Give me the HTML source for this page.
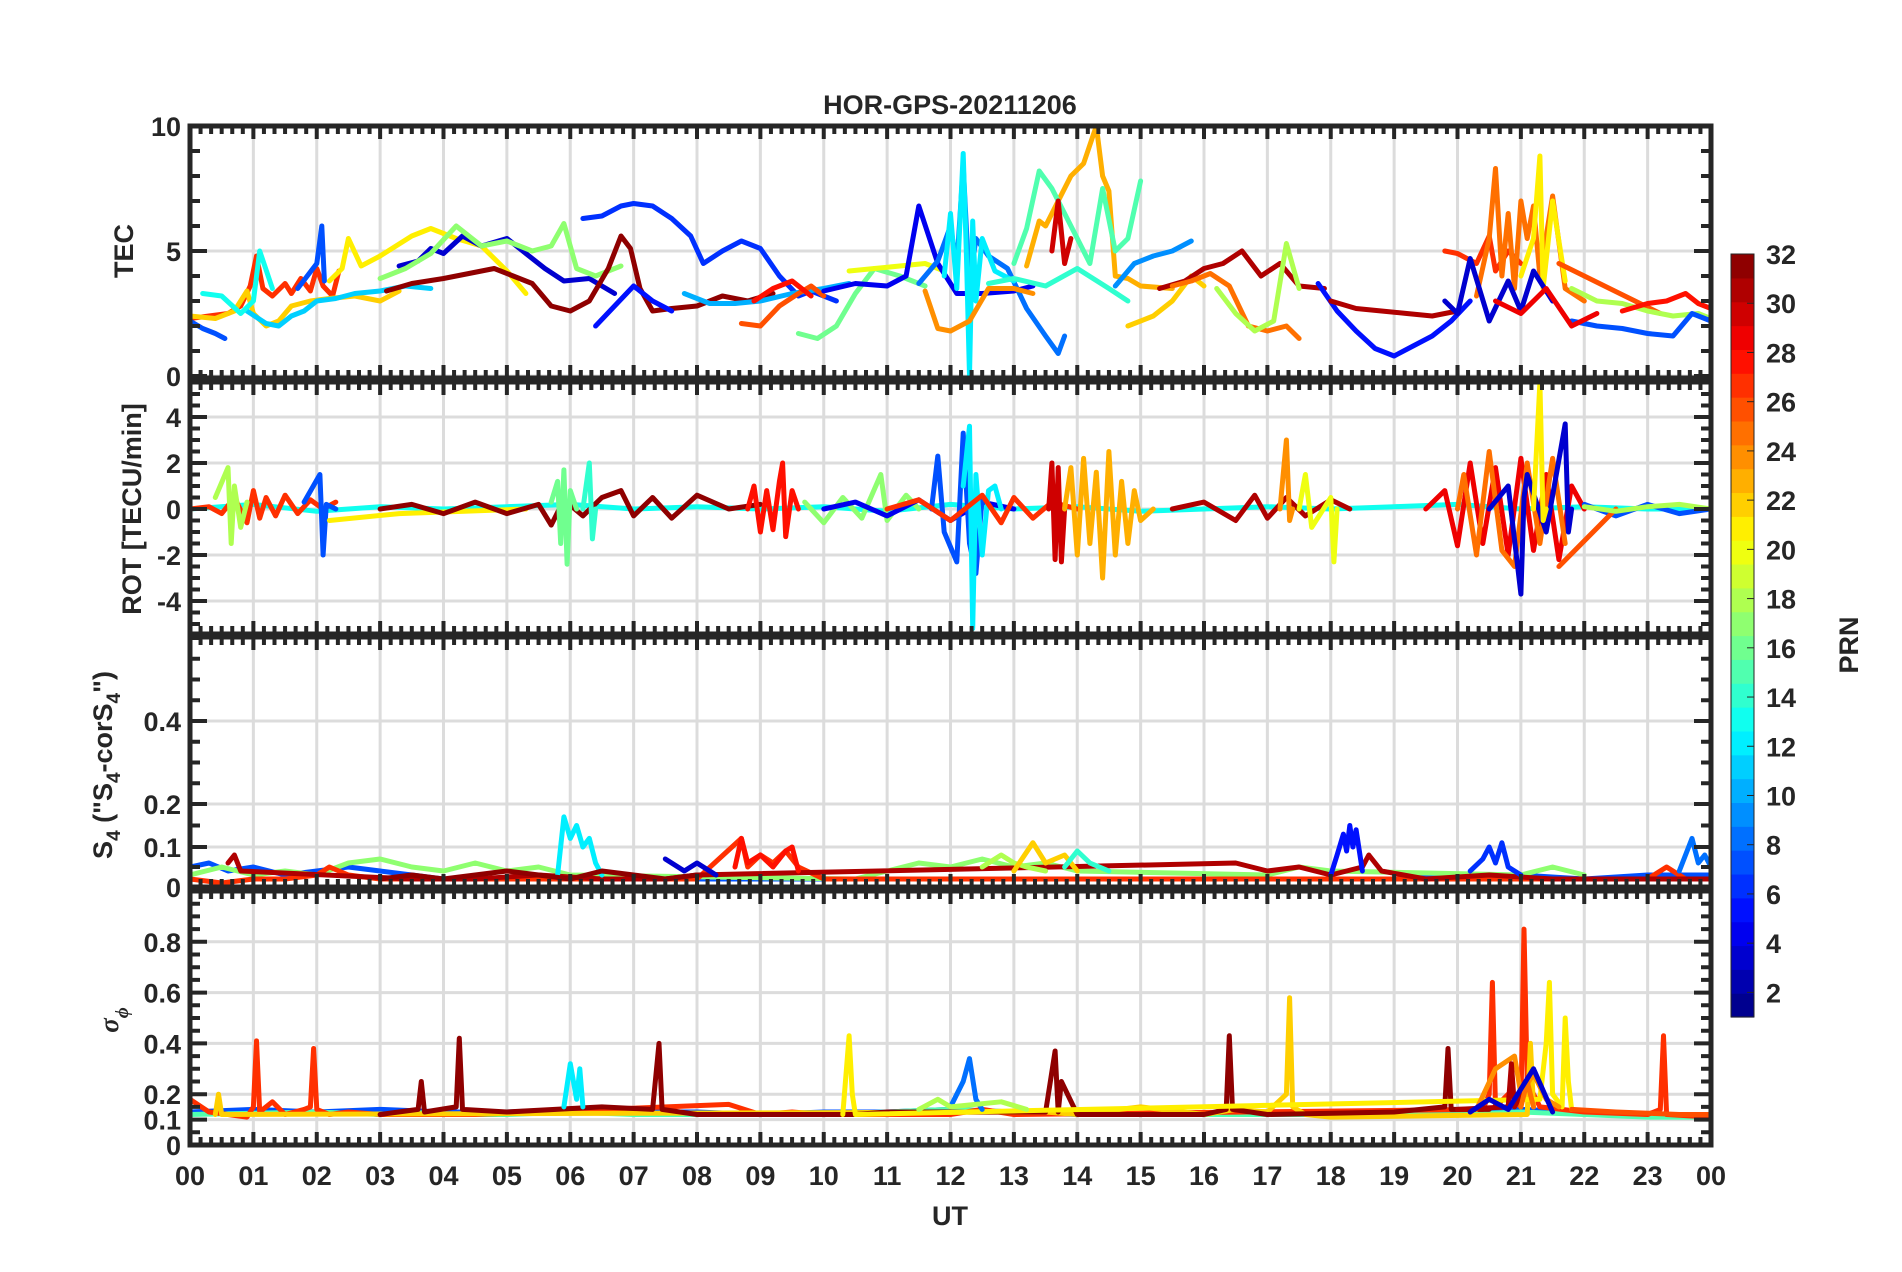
<!DOCTYPE html>
<html><head><meta charset="utf-8"><style>
html,body{margin:0;padding:0;background:#fff;}
svg{display:block;font-family:"Liberation Sans",Arial,sans-serif;}
text{fill:#262626;font-weight:bold;}
</style></head><body>
<svg id="fig" width="1902" height="1272" viewBox="0 0 1902 1272" xmlns="http://www.w3.org/2000/svg">
<text x="950" y="114" font-size="27" text-anchor="middle">HOR-GPS-20211206</text>
<g id="grids"></g>
<g id="data"></g>
<g id="frames"></g>
<g id="labels"></g>
<text transform="translate(133,251) rotate(-90)" font-size="27" text-anchor="middle">TEC</text>
<text transform="translate(141,509) rotate(-90)" font-size="27" text-anchor="middle">ROT [TECU/min]</text>
<text transform="translate(112,765) rotate(-90)" font-size="27" text-anchor="middle">S<tspan font-size="19" dy="8">4</tspan><tspan dy="-8"> ("S</tspan><tspan font-size="19" dy="8">4</tspan><tspan dy="-8">-corS</tspan><tspan font-size="19" dy="8">4</tspan><tspan dy="-8">")</tspan></text>
<text transform="translate(118,1020) rotate(-90)" font-size="27" font-style="italic" font-weight="normal" font-family="Liberation Serif,serif" text-anchor="middle">σ<tspan font-size="19" dy="10">ϕ</tspan></text>
<text x="950" y="1225" font-size="27" text-anchor="middle">UT</text>
<g id="cbar"></g>
<text transform="translate(1858,645) rotate(-90)" font-size="27" text-anchor="middle">PRN</text>
</svg>
<script>
// ---------- DATA ----------
const hourTicks=["00","01","02","03","04","05","06","07","08","09","10","11","12","13","14","15","16","17","18","19","20","21","22","23","00"];
const tecTicks=[0,5,10];
const rotTicks=[-4,-2,0,2,4];
const s4Ticks=[0,0.1,0.2,0.4];
const sigTicks=[0,0.1,0.2,0.4,0.6,0.8];
const prnTicks=[2,4,6,8,10,12,14,16,18,20,22,24,26,28,30,32];

const tecPrn=[27,22,11,7,7,13,21,3,17,32,6,5,10,26,28,16,20,4,8,12,24,23,15,14,30,9,22,31,25,18,5,31,27,25,21,26,3,18,7,28,29];
const tecT=[
[0,0.3,0.6,0.8,0.95,1.05,1.15,1.3,1.5,1.6,1.75,1.9,2.0,2.1,2.25,2.35],
[0,0.4,0.7,0.9,1.0,1.2,1.4,1.6,1.9,2.2,2.6,3.0,3.3],
[0.9,1.2,1.4,1.6,1.8,2.0,2.3,2.6,3.0,3.4,3.8],
[0,0.2,0.4,0.55],
[1.7,2.0,2.08,2.12],
[0.2,0.5,0.8,1.0,1.1,1.3],
[2.2,2.4,2.5,2.7,3.0,3.5,3.8,4.2,4.6,5.0,5.3],
[3.3,3.6,3.8,4.0,4.3,4.6,5.0,5.3,5.6,5.9,6.3,6.7],
[3.0,3.4,3.8,4.2,4.6,5.0,5.4,5.7,5.9,6.1,6.4,6.8],
[3.1,3.5,4.0,4.4,4.8,5.1,5.4,5.7,6.0,6.3,6.6,6.8,6.95,7.1,7.3,7.6,8.0,8.4,8.8,9.2],
[6.2,6.5,6.8,7.0,7.3,7.6,7.9,8.1,8.4,8.7,9.0,9.3,9.6,9.8,10.2],
[6.4,6.7,7.0,7.3,7.6],
[7.8,8.2,8.6,9.0,9.5,10.0,10.4],
[8.7,9.0,9.3,9.6,9.8,10.0],
[8.9,9.2,9.5,9.8],
[9.6,9.9,10.2,10.5,10.8,11.2,11.6],
[10.4,10.8,11.2,11.6,11.9],
[10.0,10.5,11.0,11.3,11.5,11.8,12.1,12.5,13.0,13.3],
[11.5,11.8,12.0,12.1,12.2,12.3,12.4,12.6,12.9,13.2,13.5,13.7,13.8],
[11.9,12.0,12.1,12.2,12.25,12.3,12.35,12.4,12.5,12.7,13.0],
[11.6,11.8,12.0,12.3,12.6,13.0,13.3],
[13.2,13.4,13.5,13.7,13.9,14.1,14.3,14.4,14.5,14.6,14.8,15.0,15.5],
[13.0,13.2,13.4,13.6,13.8,14.0,14.2,14.4,14.6,14.8,15.0],
[12.6,13.0,13.5,14.0,14.5,14.8],
[13.6,13.7,13.8,13.9],
[14.6,14.9,15.2,15.5,15.8],
[14.8,15.2,15.5,15.8,16.0],
[15.3,15.7,16.0,16.3,16.6,16.9,17.2,17.5,17.9],
[15.5,15.8,16.1,16.4,16.7,17.0,17.3,17.5],
[16.2,16.5,16.8,17.1,17.3,17.5],
[17.8,18.1,18.4,18.7,19.0,19.3,19.6,19.9,20.2],
[18.0,18.4,18.8,19.2,19.6,20.0],
[19.8,20.0,20.3,20.5,20.6,20.8,21.0],
[20.3,20.5,20.6,20.7,20.8,20.9,21.0,21.1,21.2,21.3,21.5,21.7,22.0],
[21.0,21.2,21.3,21.35,21.5,21.7],
[21.6,22.0,22.4,22.8,23.2],
[19.8,20.0,20.2,20.5,20.8,21.0,21.2,21.5],
[21.8,22.2,22.6,23.0,23.4,23.8,24.0],
[21.8,22.2,22.6,23.0,23.4,23.7,24.0],
[22.6,23.0,23.3,23.6,23.8,24.0],
[20.6,21.0,21.4,21.8,22.2]];
const tecV=[
[2.3,2.4,2.5,2.8,3.6,4.8,3.5,3.2,3.7,3.3,3.9,3.4,4.3,3.6,3.2,4.2],
[2.4,2.3,2.6,3.4,2.5,2.0,2.2,2.8,3.0,3.1,3.2,3.0,3.4],
[2.6,2.1,2.0,2.4,2.6,3.0,3.1,3.3,3.4,3.6,3.5],
[2.2,1.9,1.7,1.5],
[3.5,4.5,6.0,3.8],
[3.3,3.2,2.5,3.0,5.0,3.5],
[3.8,4.3,5.5,4.4,4.8,5.6,5.9,5.5,5.2,4.2,3.3],
[4.4,4.6,5.1,4.9,5.6,5.2,5.5,4.9,4.3,3.8,3.9,3.3],
[3.9,4.3,4.9,6.0,5.2,5.4,5.0,5.2,6.1,4.3,4.0,4.4],
[3.4,3.7,3.9,4.1,4.3,4.0,3.7,2.8,2.6,3.0,4.3,5.6,5.1,3.5,2.6,2.7,2.8,3.2,3.0,3.3],
[6.3,6.4,6.8,6.9,6.8,6.3,5.6,4.5,5.0,5.4,5.1,4.0,3.2,3.4,3.0],
[2.0,2.8,3.6,3.0,2.6],
[3.3,2.9,2.9,3.0,3.3,3.5,3.7],
[2.1,2.0,2.8,3.3,3.6,3.2],
[3.0,3.5,3.8,3.2],
[1.7,1.5,2.0,3.3,4.3,4.0,3.6],
[4.2,4.3,4.4,4.5,4.2],
[3.4,3.7,3.6,4.0,6.8,4.5,3.3,3.3,3.4,3.6],
[3.7,4.6,6.0,4.4,8.4,3.5,5.5,4.8,4.3,2.7,1.6,0.9,1.6],
[4.0,6.5,3.5,8.9,5.0,0.0,6.2,3.0,5.5,4.2,3.8],
[3.4,1.9,1.8,2.2,3.5,3.5,3.3],
[4.4,6.2,6.0,7.0,8.0,8.5,10.0,8.0,7.4,4.0,3.9,3.6,3.5],
[4.5,5.9,8.2,7.5,6.5,5.5,4.5,7.5,5.0,5.5,7.8],
[3.7,3.9,3.6,4.3,3.5,3.0],
[5.0,7.0,4.5,5.5],
[3.6,4.5,4.8,5.0,5.4],
[2.0,2.4,3.0,4.0,3.6],
[3.5,3.8,4.3,4.5,5.0,4.0,4.5,3.6,3.5],
[3.6,3.8,4.1,3.6,2.0,1.8,2.0,1.5],
[3.5,2.5,1.8,2.2,5.3,3.5],
[3.7,2.6,1.8,1.1,0.8,1.2,1.6,2.2,3.0],
[3.0,2.7,2.6,2.5,2.4,2.6],
[5.0,4.9,4.5,5.6,4.2,5.0,4.5],
[3.2,5.5,8.3,4.0,6.5,3.5,7.0,5.5,6.8,4.0,7.2,3.5,3.0],
[4.0,5.5,8.8,3.5,7.0,3.8],
[4.5,4.0,3.5,3.0,2.5],
[3.0,2.5,4.7,2.2,3.8,2.6,4.2,3.0],
[3.5,3.0,2.9,2.6,2.4,2.5,2.3],
[2.2,2.0,1.9,1.7,1.6,2.5,2.2],
[2.6,2.9,3.0,3.3,2.9,2.7],
[3.0,2.5,3.5,2.0,2.5]];

const rotPrn=[13,27,18,7,21,32,16,14,28,17,4,7,12,27,30,23,31,24,20,29,25,3,21,7,26,18];
const rotT=[
[0,1,2,3,4,5,6,7,8,9,10,11,12,13,14,15,16,17,18,19,20,21,22,23,24],
[0,0.3,0.5,0.7,0.9,1.0,1.1,1.2,1.35,1.5,1.7,1.9,2.1,2.3],
[0.4,0.6,0.65,0.7,0.8,0.9],
[1.8,2.05,2.1,2.15,2.3],
[2.2,3.3,5.3],
[3.0,3.5,4.0,4.5,5.0,5.5,5.7,5.9,6.2,6.5,6.8,7.0,7.3,7.6,8.0,8.5,9.0],
[5.7,5.8,5.85,5.9,5.95,6.0,6.1],
[6.2,6.3,6.35,6.4],
[8.8,8.9,9.0,9.1,9.2,9.3,9.35,9.4,9.5,9.6],
[9.7,10.0,10.3,10.6,10.9,11.0,11.3,11.5],
[10.0,10.5,11.0,11.5,12.0,12.5,13.0],
[11.7,11.8,11.9,12.1,12.2,12.3,12.4,12.5],
[12.2,12.3,12.35,12.4,12.5,12.6,12.7,12.8],
[11.0,11.5,12.0,12.5,12.8,13.0,13.3,13.6,14.0],
[13.55,13.6,13.65,13.7,13.75,13.8],
[13.8,13.9,14.0,14.1,14.2,14.3,14.4,14.5,14.6,14.7,14.8,14.9,15.0,15.2],
[15.5,16.0,16.5,16.8,17.0,17.3,17.6,18.0,18.3],
[17.2,17.3,17.35,17.4],
[17.5,17.6,17.7,18.0,18.05,18.1],
[19.5,19.8,20.0,20.2,20.4,20.6,20.8,21.0,21.2,21.4,21.6,21.8,22.0],
[20.0,20.1,20.3,20.5,20.7,20.9,21.1,21.3,21.5,21.7],
[20.5,20.8,21.0,21.05,21.1,21.4,21.7,21.75,21.8],
[21.2,21.3,21.35,21.4],
[22.0,22.5,23.0,23.5,24.0],
[21.6,22.5],
[22.0,22.5,23.0,23.5,24.0]];
const rotV=[
[0,0.2,-0.1,0.1,0,0.1,0.2,0,0.1,0,0.1,-0.1,0.2,0,0.1,-0.1,0,0.1,0,0.1,0.2,0,0.1,0,0],
[0,0.1,-0.2,0.5,-0.6,0.8,-0.4,0.5,-0.3,0.6,-0.2,0.4,0,0.3],
[0.5,1.8,-1.5,1.0,-0.8,0.3],
[0.3,1.5,-2.0,0.2,0],
[-0.5,-0.2,0],
[0,0.2,-0.2,0.3,-0.2,0.2,-0.7,0.4,-0.3,0.5,0.8,-0.3,0.5,-0.4,0.6,0,0.2],
[0.3,1.2,-1.5,1.7,-2.4,0.8,0],
[0,2.0,-1.3,0],
[0,1.0,-1.0,0.8,-0.9,1.2,2.0,-1.2,0.8,0],
[0.3,-0.6,0.5,-0.4,1.5,-0.5,0.6,0],
[0,0.3,-0.3,0.4,-0.5,0.3,0],
[0,2.3,-1.0,-2.3,3.3,-1.5,-2.8,0.5],
[1.0,3.6,-5.2,1.5,-2.0,0.8,1.0,0],
[0,0.4,-0.5,0.6,-0.6,0.5,-0.4,0.3,0],
[0,2.0,-2.2,1.8,-2.3,0],
[0,1.8,-2.0,2.2,-1.5,1.6,-3.0,2.5,-2.0,1.2,-1.5,0.8,-0.5,0],
[0,0.3,-0.5,0.6,-0.4,0.5,-0.3,0.4,0],
[0,3.0,-0.5,0],
[0,1.5,-0.8,0.5,-2.3,0],
[0,0.8,-1.6,2.0,-1.5,1.8,-2.0,2.2,-1.8,1.5,-2.2,1.0,0],
[0,1.5,-2.0,2.5,-1.8,-2.5,2.0,-1.5,2.2,-1.5],
[0,1.0,-3.7,0.5,1.5,-1.0,3.7,-1.0,0],
[0,5.5,-0.5,0],
[0.2,-0.3,0.2,-0.2,0],
[-2.5,0],
[0.1,-0.1,0.1,0.2,0]];

const s4Prn=[7,17,27,31,12,3,28,18,22,14,5,6,8,32];
const s4T=[
[0,0.3,0.6,1.0,1.5,2.0,2.5,3.0,3.5,4.0,5.0,6.0,7.0,8.0,9.0,10.0,11.0,12.0,13.0,14.0,15.0,16.0,17.0,18.0,19.0,20.0,21.0,22.0,23.0,24.0],
[0,0.5,1.0,1.5,2.0,2.5,3.0,3.5,4.0,4.5,5.0,5.5,6.0,10.5,11.0,11.5,12.0,12.5,13.0,13.5,14.0,17.0,17.5,18.0,21.0,21.5,22.0],
[0,0.5,1.0,1.5,2.0,2.2,2.5,3.0,3.5,4.0,5.0,6.0,7.0,8.0,8.7,8.8,9.0,9.2,9.4,9.6,10.0,11.0,12.0,13.0,14.0,15.0,16.0,17.0,18.0,19.0,20.0,21.0,22.0,23.0,23.3,23.6,24.0],
[0.6,0.7,0.8,3.5,4.5,5.5,6.5,7.5,8.0,16.5,17.0,17.5,18.0,18.5,18.6,18.8,19.5,20.5,21.5,22.5,23.5,24.0],
[5.8,5.9,6.0,6.1,6.2,6.3,6.4,6.5],
[7.5,7.8,8.0,8.3],
[8.6,8.7,8.8,9.0,9.2,9.4,9.5,9.6],
[12.5,12.8,13.0,13.2,13.5],
[13.0,13.3,13.5,13.8,14.0],
[13.8,14.0,14.2,14.5],
[18.0,18.1,18.2,18.25,18.3,18.35,18.4,18.5],
[20.2,20.4,20.5,20.6,20.7,20.8,21.0],
[23.5,23.7,23.8,23.9,24.0],
[3.0,3.5,4.0,4.5,5.0,5.5,6.0,6.5,7.0,7.5,8.0]];
const s4V=[
[0.05,0.06,0.04,0.05,0.03,0.04,0.05,0.04,0.03,0.02,0.02,0.02,0.02,0.02,0.02,0.02,0.02,0.02,0.02,0.02,0.02,0.02,0.02,0.02,0.02,0.03,0.03,0.02,0.03,0.03],
[0.03,0.05,0.03,0.04,0.03,0.06,0.07,0.05,0.04,0.06,0.04,0.05,0.03,0.02,0.04,0.06,0.05,0.07,0.05,0.06,0.04,0.03,0.05,0.04,0.03,0.05,0.03],
[0.02,0.01,0.02,0.02,0.03,0.05,0.03,0.02,0.02,0.02,0.02,0.02,0.02,0.02,0.12,0.05,0.08,0.06,0.09,0.05,0.02,0.02,0.02,0.02,0.02,0.02,0.02,0.02,0.02,0.02,0.02,0.02,0.02,0.02,0.05,0.02,0.02],
[0.06,0.08,0.04,0.02,0.02,0.03,0.02,0.02,0.03,0.06,0.04,0.05,0.03,0.05,0.08,0.04,0.02,0.03,0.02,0.02,0.02,0.02],
[0.03,0.17,0.12,0.15,0.10,0.12,0.06,0.03],
[0.07,0.04,0.06,0.03],
[0.05,0.12,0.06,0.08,0.05,0.09,0.10,0.04],
[0.05,0.08,0.06,0.05,0.04],
[0.04,0.11,0.06,0.08,0.04],
[0.05,0.09,0.06,0.04],
[0.03,0.08,0.13,0.09,0.15,0.10,0.14,0.04],
[0.04,0.07,0.10,0.06,0.11,0.05,0.03],
[0.04,0.12,0.06,0.08,0.05],
[0.02,0.03,0.02,0.03,0.04,0.03,0.02,0.04,0.03,0.02,0.03]];

const sigPrn=[7,15,27,22,32,12,21,8,24,31,25,3,26,18];
const sigT=[
[0,1,2,3,4,5,6,7,8,9,10,11,12,13,14,15,16,17,18,19,20,21,22,23,24],
[0,2,3,3.5,4,5,6,7,8,9,10,11,12,13,14,15,16,17,18,19,20,21,22,23,24],
[0,0.3,0.6,0.9,1.0,1.05,1.1,1.3,1.5,1.8,1.9,1.95,2.0,2.2,2.5,3.0,4.5,8.5,9.0,9.5,10.0,12.0,12.5,13.0,20.4,20.5,20.55,20.6,20.8,21.0,21.05,21.1,21.3,22.0,23.0,23.2,23.25,23.3,24.0],
[0.4,0.45,0.5,13.5,14.0,15.0,16.0,16.5,17.0,17.3,17.35,17.4,17.6,18.0,21.1,21.15,21.2],
[3.0,3.6,3.65,3.7,4.2,4.25,4.3,5.0,6.5,7.3,7.4,7.45,8.0,10.5,11.0,13.5,13.65,13.7,13.75,14.0,16.0,16.35,16.4,16.45,17.0,19.0,19.8,19.85,19.9,20.5],
[5.9,6.0,6.1,6.15,6.2],
[10.3,10.4,10.45,10.5,21.3,21.4,21.45,21.5,21.65,21.7,21.75,21.8],
[12.0,12.2,12.3,12.4,12.5],
[20.3,20.6,20.9,21.0,21.2,21.4,21.6],
[20.0,20.8,20.85,20.9,21.0],
[21.0,21.1,21.2],
[20.2,20.5,20.8,21.2,21.5],
[21.8,22.5,23.5,24.0],
[11.5,11.8,12.0,12.8,13.2]];
const sigV=[
[0.13,0.14,0.13,0.14,0.13,0.13,0.14,0.13,0.13,0.12,0.13,0.13,0.14,0.13,0.12,0.12,0.12,0.12,0.13,0.12,0.13,0.14,0.13,0.12,0.12],
[0.12,0.13,0.12,0.13,0.12,0.12,0.13,0.12,0.12,0.12,0.12,0.13,0.14,0.13,0.13,0.12,0.12,0.12,0.12,0.12,0.12,0.13,0.12,0.11,0.11],
[0.18,0.13,0.12,0.11,0.15,0.41,0.13,0.17,0.12,0.14,0.15,0.38,0.14,0.12,0.13,0.12,0.12,0.16,0.12,0.13,0.12,0.12,0.14,0.12,0.14,0.2,0.64,0.15,0.2,0.15,0.85,0.25,0.15,0.13,0.12,0.14,0.43,0.12,0.11],
[0.12,0.2,0.12,0.13,0.12,0.15,0.12,0.14,0.13,0.2,0.58,0.15,0.12,0.11,0.12,0.4,0.15],
[0.12,0.14,0.25,0.13,0.15,0.42,0.14,0.13,0.15,0.14,0.40,0.14,0.12,0.12,0.13,0.13,0.37,0.13,0.25,0.12,0.12,0.14,0.43,0.14,0.12,0.13,0.15,0.38,0.14,0.14],
[0.15,0.32,0.18,0.30,0.15],
[0.12,0.43,0.2,0.12,0.18,0.40,0.64,0.2,0.15,0.50,0.25,0.14],
[0.15,0.25,0.34,0.18,0.14],
[0.14,0.3,0.35,0.2,0.28,0.18,0.15],
[0.14,0.15,0.32,0.15,0.2],
[0.15,0.25,0.15],
[0.13,0.18,0.14,0.3,0.13],
[0.14,0.13,0.12,0.12],
[0.14,0.18,0.15,0.17,0.14]];

// ---------- LAYOUT ----------
const NS="http://www.w3.org/2000/svg";
const X0=190,X1=1711;
function xs(h){return X0+h*(X1-X0)/24;}
function yTec(v){return 376-v*25;}
function yRot(v){return 509-v*23;}
function yS4(v){const p=[[0,887],[0.1,847],[0.2,804],[0.4,721],[0.6,638]];for(let i=1;i<p.length;i++){if(v<=p[i][0]||i===p.length-1){const a=p[i-1],b=p[i];return a[1]+(v-a[0])*(b[1]-a[1])/(b[0]-a[0]);}}}
function ySig(v){return 1145-v*254;}
const panels=[
 {name:"tec",top:126,bot:378,y:yTec,ticks:tecTicks,minor:[0,10,1],prn:tecPrn,T:tecT,V:tecV},
 {name:"rot",top:382,bot:634,y:yRot,ticks:rotTicks,minor:[-5.5,5.5,0.5],prn:rotPrn,T:rotT,V:rotV},
 {name:"s4",top:637,bot:887,y:yS4,ticks:s4Ticks,minor:[0,0.6,0.05],prn:s4Prn,T:s4T,V:s4V},
 {name:"sigma",top:891,bot:1145,y:ySig,ticks:sigTicks,minor:[0,1,0.05],prn:sigPrn,T:sigT,V:sigV}];
function jet(p){
 const x=(p-0.5)/32;
 const c=t=>Math.round(255*Math.max(0,Math.min(1,1.5-Math.abs(t))));
 return `rgb(${c(4*x-3)},${c(4*x-2)},${c(4*x-1)})`;
}
function mk(tag,attrs,parent){const e=document.createElementNS(NS,tag);for(const k in attrs)e.setAttribute(k,attrs[k]);parent.appendChild(e);return e;}
const G=document.getElementById('grids'),D=document.getElementById('data'),F=document.getElementById('frames'),L=document.getElementById('labels');
const defs=mk('defs',{},document.getElementById('fig'));
const ink="#262626";
panels.forEach(pn=>{
 const cp=mk('clipPath',{id:'clip-'+pn.name},defs);
 mk('rect',{x:X0,y:pn.top,width:X1-X0,height:pn.bot-pn.top},cp);
 for(let h=1;h<24;h++){
  const g=mk('line',{x1:xs(h),x2:xs(h),y1:pn.top,y2:pn.bot,stroke:"#dcdcdc","stroke-width":3},G);
  
  
 }
 pn.ticks.forEach(v=>{
  const g=mk('line',{x1:X0,x2:X1,y1:pn.y(v),y2:pn.y(v),stroke:"#dcdcdc","stroke-width":3},G);
  
  
 });
 const grp=mk('g',{'clip-path':'url(#clip-'+pn.name+')'},D);
 
 
 pn.T.forEach((ts,i)=>{
  const pts=ts.map((t,j)=>xs(t).toFixed(1)+','+pn.y(pn.V[i][j]).toFixed(1)).join(' ');
  const pl=mk('polyline',{points:pts,fill:"none",stroke:jet(pn.prn[i]),"stroke-width":5,"stroke-linejoin":"round","stroke-linecap":"round"},grp);
  
  
 });
 const fr=mk('rect',{x:X0,y:pn.top,width:X1-X0,height:pn.bot-pn.top,fill:"none",stroke:ink,"stroke-width":5},F);
 
 
 let tk="";
 for(let m=0;m<=144;m++){const x=xs(m/6);const len=(m%6===0)?13:8;
  tk+=`M${x},${pn.top}v${len}M${x},${pn.bot}v${-len}`;}
 const [a,b,s]=pn.minor;
 for(let v=a;v<=b+1e-9;v+=s){const y=pn.y(v);if(y<pn.top-1||y>pn.bot+1)continue;
  const major=pn.ticks.some(t=>Math.abs(t-v)<1e-6);const len=major?17:10;
  tk+=`M${X0},${y}h${len}M${X1},${y}h${-len}`;}
 const tp=mk('path',{d:tk,stroke:ink,"stroke-width":4,fill:"none"},F);
 
 
 pn.ticks.forEach(v=>{
  const t=mk('text',{x:X0-9,y:pn.y(v)+10,"font-size":27,"text-anchor":"end"},L);
  t.textContent=String(v);
  
  
 });
});
hourTicks.forEach((lab,i)=>{
 const t=mk('text',{x:xs(i),y:1185,"font-size":27,"text-anchor":"middle"},L);
 t.textContent=lab;
 
 
});
const CB=document.getElementById('cbar');
const cbTop=254,cbBot=1017,cbX=1731,cbW=23;
for(let p=1;p<=32;p++){
 const h=(cbBot-cbTop)/32;
 const r=mk('rect',{x:cbX,y:cbBot-p*h,width:cbW,height:h+0.6,fill:jet(p)},CB);
 
 
}
const cbf=mk('rect',{x:cbX,y:cbTop,width:cbW,height:cbBot-cbTop,fill:"none",stroke:ink,"stroke-width":1},CB);


function yCb(v){return cbBot-(v-1)*(cbBot-cbTop)/31;}
prnTicks.forEach(v=>{
 const tm=mk('line',{x1:cbX+cbW-7,x2:cbX+cbW,y1:yCb(v),y2:yCb(v),stroke:ink,"stroke-width":1},CB);
 
 
 const t=mk('text',{x:1766,y:yCb(v)+10,"font-size":27},CB);
 t.textContent=String(v);
 
 
});
</script>
</body></html>
